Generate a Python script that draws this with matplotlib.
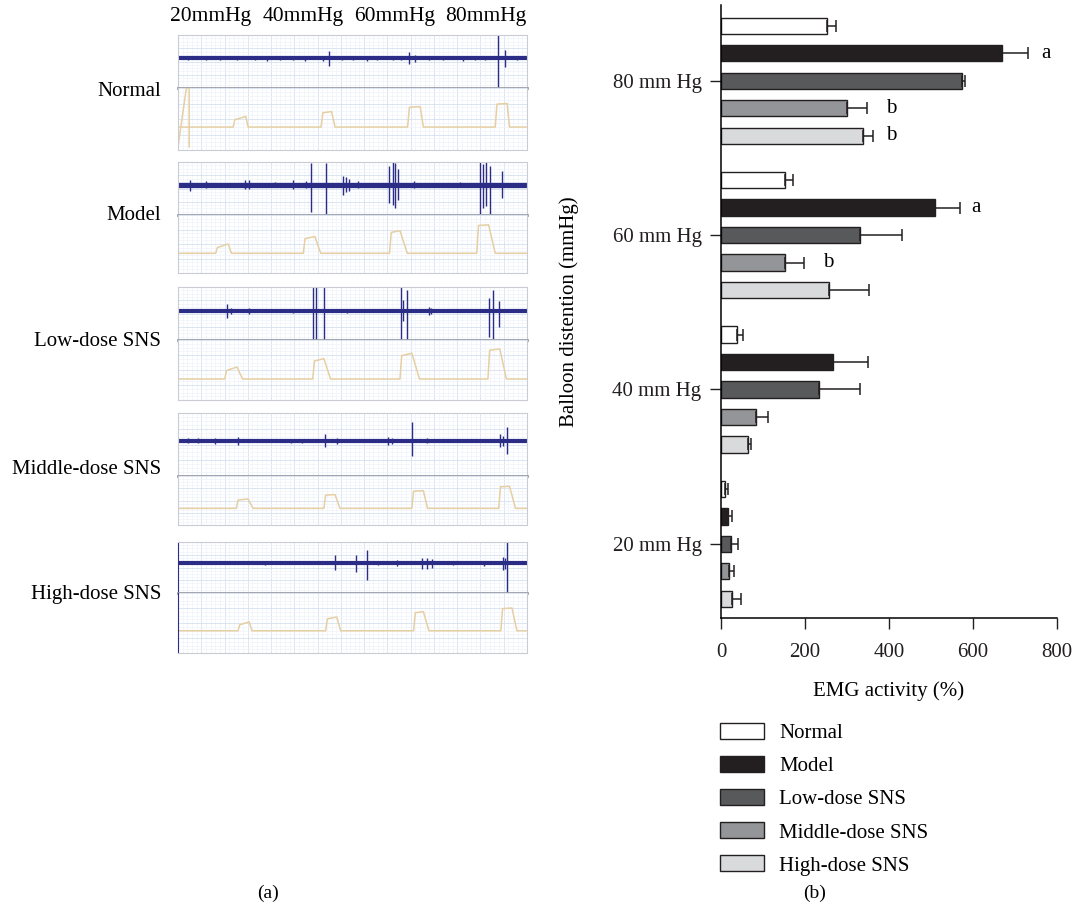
import numpy as np
import matplotlib
matplotlib.use("Agg")
import matplotlib.pyplot as plt
from matplotlib.patches import Patch

plt.rcParams["font.family"] = ["Liberation Serif", "DejaVu Serif"]

# -----------------------------
# Data: panel (b) bar chart
# -----------------------------
groups = ["20 mm Hg", "40 mm Hg", "60 mm Hg", "80 mm Hg"]
series = ["Normal", "Model", "Low-dose SNS", "Middle-dose SNS", "High-dose SNS"]
colors = ["#ffffff", "#231f20", "#58595b", "#939598", "#d9dadb"]

normal = [10, 37, 152, 252]
model = [17, 267, 510, 670]
low_dose = [24, 233, 331, 574]
middle_dose = [18, 84, 153, 299]
high_dose = [26, 64, 257, 337]

normal_err = [7, 15, 19, 22]
model_err = [9, 83, 58, 61]
low_err = [17, 97, 100, 8]
middle_err = [13, 27, 45, 48]
high_err = [22, 7, 96, 26]

# significance letters: (group index, series index, letter, x position)
sig_group = [3, 3, 3, 2, 2]
sig_series = [1, 3, 4, 1, 3]
sig_letter = ["a", "b", "b", "a", "b"]
sig_x = [774, 405, 405, 607, 255]

# -----------------------------
# Data: panel (a) traces (time 0-100, section-relative amplitudes)
# -----------------------------
trace_names = ["Normal", "Model", "Low-dose SNS", "Middle-dose SNS", "High-dose SNS"]
pressure_labels = ["20mmHg", "40mmHg", "60mmHg", "80mmHg"]

emg_base = [0.56, 0.575, 0.55, 0.56, 0.58]

emg_t = [
    [3, 8, 12, 17, 22, 25.4, 29.2, 33, 36.4, 41.6, 43.3, 47, 50, 54.1, 57, 61.7, 64, 66.3, 67.9, 72, 76, 81.8, 85, 88.0, 91.6, 93.8, 97],
    [3.3, 8.1, 19.1, 20.4, 27.8, 33.0, 36.8, 38.0, 42.4, 47.2, 48.1, 49.1, 51.7, 60.6, 61.5, 62.2, 62.9, 67.5, 80.9, 86.4, 87.3, 88.3, 89.3, 92.8],
    [8.1, 13.9, 15.1, 20.4, 33.0, 38.8, 39.5, 41.9, 48.3, 63.8, 64.6, 65.7, 71.8, 72.4, 89.0, 90.2, 91.9],
    [2.9, 5.7, 10.5, 17.2, 32.5, 35.4, 42.1, 45.5, 60.3, 61.2, 67.0, 71.3, 92.2, 93.1, 94.3],
    [24.9, 45.0, 51.0, 54.1, 57.4, 62.7, 69.9, 71.3, 72.7, 78.9, 87.6, 93.1, 93.8, 94.4],
]
emg_up = [
    [0.03, 0.03, 0.03, 0.03, 0.03, 0.05, 0.03, 0.03, 0.05, 0.05, 0.14, 0.03, 0.03, 0.05, 0.03, 0.04, 0.03, 0.11, 0.06, 0.03, 0.03, 0.05, 0.03, 0.04, 0.44, 0.16, 0.03],
    [0.09, 0.06, 0.09, 0.08, 0.05, 0.09, 0.07, 0.41, 0.41, 0.16, 0.14, 0.10, 0.06, 0.35, 0.42, 0.40, 0.30, 0.06, 0.05, 0.42, 0.38, 0.42, 0.35, 0.25],
    [0.03, 0.13, 0.06, 0.05, 0.04, 0.45, 0.45, 0.45, 0.04, 0.45, 0.20, 0.40, 0.08, 0.06, 0.25, 0.40, 0.19],
    [0.04, 0.04, 0.05, 0.06, 0.03, 0.03, 0.10, 0.05, 0.06, 0.05, 0.29, 0.04, 0.10, 0.08, 0.21],
    [0.03, 0.16, 0.16, 0.26, 0.03, 0.06, 0.10, 0.10, 0.08, 0.03, 0.05, 0.13, 0.10, 0.42],
]
emg_down = [
    [0.03, 0.03, 0.03, 0.03, 0.03, 0.05, 0.03, 0.03, 0.05, 0.05, 0.14, 0.03, 0.03, 0.05, 0.03, 0.04, 0.03, 0.11, 0.06, 0.03, 0.03, 0.05, 0.03, 0.04, 0.56, 0.16, 0.03],
    [0.12, 0.06, 0.09, 0.08, 0.05, 0.09, 0.07, 0.51, 0.56, 0.19, 0.14, 0.12, 0.06, 0.35, 0.38, 0.45, 0.30, 0.06, 0.05, 0.56, 0.45, 0.40, 0.56, 0.25],
    [0.03, 0.14, 0.06, 0.05, 0.04, 0.55, 0.55, 0.55, 0.04, 0.55, 0.20, 0.55, 0.08, 0.06, 0.50, 0.53, 0.31],
    [0.04, 0.04, 0.05, 0.06, 0.03, 0.03, 0.10, 0.05, 0.06, 0.05, 0.24, 0.04, 0.10, 0.08, 0.21],
    [0.03, 0.13, 0.16, 0.32, 0.03, 0.06, 0.10, 0.10, 0.08, 0.03, 0.05, 0.13, 0.10, 0.58],
]

press_base = [0.37, 0.34, 0.35, 0.34, 0.37]
press_on = [
    [15.8, 41.0, 65.8, 90.9],
    [10.8, 35.9, 60.6, 85.6],
    [13.4, 38.6, 63.6, 88.8],
    [16.7, 41.8, 67.0, 91.9],
    [17.2, 42.3, 67.5, 92.5],
]
press_top0 = [
    [0.49, 0.60, 0.69, 0.74],
    [0.44, 0.59, 0.70, 0.82],
    [0.49, 0.65, 0.74, 0.83],
    [0.51, 0.61, 0.69, 0.78],
    [0.47, 0.57, 0.67, 0.74],
]
press_end = [
    [19.4, 44.0, 69.4, 94.3],
    [14.4, 39.2, 63.6, 89.0],
    [16.9, 41.8, 67.0, 92.2],
    [20.1, 45.0, 70.3, 95.0],
    [20.4, 45.5, 70.3, 95.7],
]
press_top1 = [
    [0.54, 0.62, 0.70, 0.75],
    [0.50, 0.63, 0.73, 0.83],
    [0.55, 0.69, 0.78, 0.85],
    [0.53, 0.62, 0.70, 0.79],
    [0.52, 0.60, 0.69, 0.75],
]
press_off = [
    [20.1, 45.0, 70.3, 95.0],
    [15.3, 40.9, 65.7, 90.9],
    [18.5, 43.7, 69.2, 94.1],
    [21.5, 46.4, 71.5, 96.7],
    [21.2, 46.6, 71.9, 97.1],
]

# -----------------------------
# Figure
# -----------------------------
W, H = 1078, 915
fig = plt.figure(figsize=(W / 100, H / 100), dpi=100)


def px_axes(x0, y0, x1, y1):
    return fig.add_axes([x0 / W, 1 - y1 / H, (x1 - x0) / W, (y1 - y0) / H])


EMG_COLOR = "#2b2c85"
PRESS_COLOR = "#e6cfa2"

# panel boxes in pixels: (x0, top, divider, bottom)
boxes = [(178, 35, 88, 150), (178, 162, 215, 273), (178, 287, 340, 400),
         (178, 413, 476, 525), (178, 542, 593, 653)]
label_y = [91, 216, 342, 470, 595]


def style_trace_axes(ax):
    ax.set_xlim(0, 100)
    ax.set_ylim(0, 1)
    ax.set_xticks(np.arange(0, 101, 100 / 15))
    ax.set_xticks(np.arange(0, 101, 100 / 75), minor=True)
    ax.set_yticks(np.arange(0, 1.01, 0.25))
    ax.set_yticks(np.arange(0, 1.01, 0.0625), minor=True)
    ax.grid(which="major", color="#d6e1f0", lw=0.6)
    ax.grid(which="minor", color="#eff3fa", lw=0.5)
    ax.tick_params(which="both", length=0, labelbottom=False, labelleft=False)
    ax.set_axisbelow(True)
    for s in ax.spines.values():
        s.set_color("#c9ccd4")
        s.set_linewidth(0.8)


for i, (x0, top, mid, bot) in enumerate(boxes):
    ax_e = px_axes(x0, top, 527, mid)
    style_trace_axes(ax_e)
    ax_e.spines["bottom"].set_color("#9c9ca6")
    ax_e.spines["bottom"].set_linewidth(2)
    base = emg_base[i]
    ax_e.plot([0, 100], [base, base], color=EMG_COLOR, lw=3 if i != 1 else 3.8, solid_capstyle="butt")
    t = np.array(emg_t[i])
    ax_e.vlines(t, base - np.array(emg_down[i]), base + np.array(emg_up[i]), color=EMG_COLOR, lw=1)

    ax_p = px_axes(x0, mid, 527, bot)
    style_trace_axes(ax_p)
    ax_p.spines["top"].set_visible(False)
    pb = press_base[i]
    xs, ys = [0], [pb]
    for k in range(4):
        xs += [press_on[i][k], press_on[i][k] + 0.5, press_end[i][k], press_off[i][k]]
        ys += [pb, press_top0[i][k], press_top1[i][k], pb]
    xs.append(100)
    ys.append(pb)
    ax_p.plot(xs, ys, color=PRESS_COLOR, lw=1.1)
    if i == 4:
        ax_e.spines["left"].set_color(EMG_COLOR)
        ax_p.spines["left"].set_color(EMG_COLOR)

    fig.text(161 / W, 1 - label_y[i] / H, trace_names[i], ha="right", va="center", fontsize=15)

# calibration artefact at start of the first pressure trace
ax_first = fig.axes[1]
ax_first.plot([0, 2.4, 3.2, 3.2], [0.05, 1.0, 1.0, 0.05], color=PRESS_COLOR, lw=1.1)

for lab, xc in zip(pressure_labels, [211, 303, 395, 486]):
    fig.text(xc / W, 1 - 17 / H, lab, ha="center", va="center", fontsize=15.5)

fig.text(268 / W, 1 - 893 / H, "(a)", ha="center", va="center", fontsize=14)
fig.text(815 / W, 1 - 893 / H, "(b)", ha="center", va="center", fontsize=14)

# -----------------------------
# Panel (b)
# -----------------------------
ax = px_axes(721, 5, 1057, 618)
values = [normal, model, low_dose, middle_dose, high_dose]
errors = [normal_err, model_err, low_err, middle_err, high_err]
ypos = np.arange(len(groups))
step = 0.178
bar_h = 0.105

for j, (vals, errs) in enumerate(zip(values, errors)):
    y = ypos + (2 - j) * step
    ax.barh(y, vals, height=bar_h, color=colors[j], edgecolor="#231f20", lw=1)
    ax.errorbar(vals, y, xerr=[np.zeros(len(errs)), errs], fmt="none",
                ecolor="#231f20", elinewidth=1.1, capsize=4, capthick=1.1)

for g, s, letter, x in zip(sig_group, sig_series, sig_letter, sig_x):
    ax.text(x, ypos[g] + (2 - s) * step, letter, ha="center", va="center", fontsize=15)

ax.set_xlim(0, 800)
ax.set_ylim(-0.48, 3.49)
ax.set_xticks([0, 200, 400, 600, 800])
ax.set_yticks(ypos)
ax.set_yticklabels(groups)
ax.tick_params(axis="both", direction="out", length=8, width=1, labelsize=15, colors="#231f20", pad=6)
ax.tick_params(axis="x", pad=10)
ax.spines["top"].set_visible(False)
ax.spines["right"].set_visible(False)
ax.spines["left"].set_linewidth(1.1)
ax.spines["bottom"].set_linewidth(1.1)
ax.set_xlabel("EMG activity (%)", fontsize=15, labelpad=14)
ax.set_ylabel("Balloon distention (mmHg)", fontsize=15, labelpad=24)

handles = [Patch(facecolor=c, edgecolor="#231f20", lw=1) for c in colors]
fig.legend(handles, series, loc="upper left", bbox_to_anchor=(720 / W, 1 - 723 / H),
           frameon=False, fontsize=15, handlelength=2.1, handleheight=0.8,
           handletextpad=0.75, labelspacing=0.62, borderpad=0, borderaxespad=0)

plt.savefig("out.png", dpi=100)
